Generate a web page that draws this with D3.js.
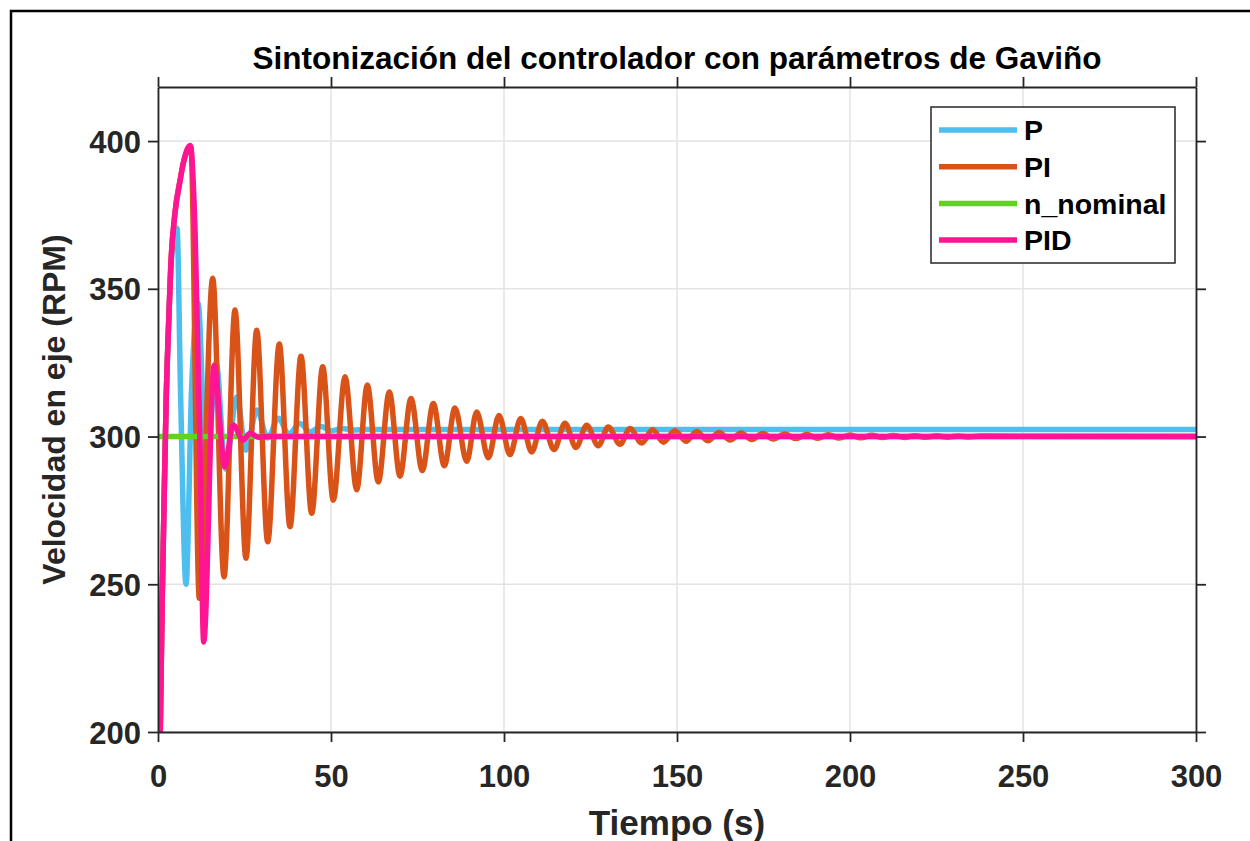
<!DOCTYPE html>
<html>
<head>
<meta charset="utf-8">
<script src="https://cdn.jsdelivr.net/npm/d3@7"></script>
<style>
  html, body { margin: 0; padding: 0; background: #fff; }
  svg { display: block; font-family: "Liberation Sans", Arial, Helvetica, sans-serif; font-weight: bold; }
</style>
</head>
<body>
<div id="chart"></div>
<script>
// values
const xTicks = [0, 50, 100, 150, 200, 250, 300];
const yTicks = [200, 250, 300, 350, 400];
const seriesNames = ['P', 'PI', 'n_nominal', 'PID'];
const seriesColors = ['#4DBEEE', '#D95319', '#62D21E', '#FF1493'];

// P controller
const pTime  = [0, 0.65, 1.25, 2.0, 2.4, 3.0, 3.7, 4.6, 5.5, 6.5, 8.1, 9.7, 11.6, 14.0, 16.8, 19.5, 22.8, 25.4, 28.6, 31.7, 34.8, 37.8, 41.0, 44.0, 47.1, 50.2, 53.3, 56.4, 60, 300];
const pSpeed = [160, 200, 247, 292, 314, 336, 356, 367, 370.5, 316, 250, 316, 345, 285, 325, 289, 313.4, 295.4, 309, 299.5, 306.2, 300.8, 304.4, 301.6, 303.4, 302.0, 302.7, 302.2, 302.4, 302.4];

// PI controller (peaks and troughs of the decaying oscillation)
const piTime  = [0, 0.65, 1.25, 2.0, 2.4, 3.0, 3.7, 4.9, 6.4, 7.3, 9.5, 11.94,
  15.81, 19.08, 22.25, 25.43, 28.53, 31.71, 35.06, 38.15, 41.33, 44.42, 47.60, 50.66,
  54.05, 57.43, 60.49, 63.67, 66.85, 69.94, 73.12, 76.39, 79.57, 82.75, 85.84, 89.22,
  92.11, 95.46, 98.55, 101.73, 104.83, 108.01, 111.07, 114.45, 117.63, 120.81, 123.90, 127.25,
  130.14, 133.53, 136.42, 139.80, 142.98, 146.04, 149.42, 152.60, 155.69, 158.87, 162.23, 165.32,
  168.50, 171.59, 174.77, 177.83, 181.21, 184.39, 187.49, 190.66, 193.73, 196.91, 200.0, 203.1,
  206.3, 209.4, 212.5, 215.7, 218.8, 221.9, 225.1, 228.2, 231.3, 234.5, 237.6, 300];
const piSpeed = [160, 200, 247, 292, 314, 336, 358, 375.6, 386.8, 392.5, 398, 245.3,
  353.6, 252.5, 342.8, 258.8, 336.0, 264.4, 331.3, 269.5, 327.2, 274.0, 323.6, 278.5,
  320.2, 282.0, 317.4, 284.6, 315.1, 286.6, 312.9, 288.5, 311.2, 290.1, 309.7, 291.6,
  308.3, 292.8, 307.1, 293.9, 306.1, 294.8, 305.2, 295.6, 304.5, 296.3, 303.8, 296.9,
  303.2, 297.4, 302.7, 297.8, 302.3, 298.1, 302.0, 298.4, 301.7, 298.6, 301.4, 298.8,
  301.2, 299.0, 301.0, 299.2, 300.85, 299.3, 300.7, 299.4, 300.6, 299.5, 300.5, 299.6,
  300.4, 299.65, 300.35, 299.7, 300.3, 299.75, 300.25, 299.8, 300.2, 299.85, 300.15, 300];

// reference speed
const nomTime  = [0, 300];
const nomSpeed = [300, 300];

// PID controller
const pidTime  = [0, 0.65, 1.25, 2.0, 2.4, 3.0, 3.7, 4.9, 6.4, 7.3, 9.3, 10.7, 12.1, 13.2, 16.2, 19.3, 21.7, 24.6, 26.6, 29, 32, 300];
const pidSpeed = [160, 200, 247, 292, 314, 336, 358, 375.6, 386.8, 392.5, 398.5, 370, 300, 230.5, 324, 289.8, 303.9, 298.8, 301.1, 299.8, 300, 300];

const width = 1250, height = 841;
const margin = { top: 87, right: 54, bottom: 109, left: 158 };
const innerW = width - margin.left - margin.right;
const innerH = height - margin.top - margin.bottom;

const svg = d3.select('#chart').append('svg')
  .attr('width', width)
  .attr('height', height);

// outer black frame of the figure
svg.append('rect')
  .attr('x', 11).attr('y', 11)
  .attr('width', 1300).attr('height', 900)
  .attr('fill', 'none')
  .attr('stroke', '#000')
  .attr('stroke-width', 2.5);

const g = svg.append('g')
  .attr('transform', `translate(${margin.left},${margin.top})`);

const x = d3.scaleLinear().domain([0, 300]).range([0, innerW]);
const y = d3.scaleLinear().domain([200, 418.3]).range([innerH, 0]);

// grid
g.append('g').selectAll('line.gx')
  .data(xTicks).join('line')
  .attr('x1', d => x(d)).attr('x2', d => x(d))
  .attr('y1', 0).attr('y2', innerH)
  .attr('stroke', '#e3e3e3').attr('stroke-width', 1.5);
g.append('g').selectAll('line.gy')
  .data(yTicks).join('line')
  .attr('x1', 0).attr('x2', innerW)
  .attr('y1', d => y(d)).attr('y2', d => y(d))
  .attr('stroke', '#e3e3e3').attr('stroke-width', 1.5);

// data lines, clipped to the axes box
g.append('clipPath').attr('id', 'plot-clip')
  .append('rect').attr('width', innerW).attr('height', innerH);

const line = d3.line()
  .x(d => x(d[0]))
  .y(d => y(d[1]))
  .curve(d3.curveMonotoneX);

const series = [
  d3.zip(pTime, pSpeed),
  d3.zip(piTime, piSpeed),
  d3.zip(nomTime, nomSpeed),
  d3.zip(pidTime, pidSpeed)
];

const plot = g.append('g').attr('clip-path', 'url(#plot-clip)');
series.forEach((s, i) => {
  plot.append('path')
    .datum(s)
    .attr('fill', 'none')
    .attr('stroke', seriesColors[i])
    .attr('stroke-width', 5.5)
    .attr('stroke-linejoin', 'round')
    .attr('d', line);
});

// axes on all four sides, ticks pointing out
const axisColor = '#262626';
const styleAxis = sel => {
  sel.select('.domain').attr('stroke', axisColor).attr('stroke-width', 1.8);
  sel.selectAll('.tick line').attr('stroke', axisColor).attr('stroke-width', 1.8);
  sel.selectAll('text')
    .attr('fill', axisColor)
    .style('font-size', '31px')
    .style('font-weight', 'bold')
    .style('font-family', '"Liberation Sans", Arial, sans-serif');
};

g.append('g')
  .attr('transform', `translate(0,${innerH})`)
  .call(d3.axisBottom(x).tickValues(xTicks).tickSize(10).tickSizeOuter(0))
  .call(styleAxis)
  .selectAll('text').attr('y', 55).attr('dy', null);

g.append('g')
  .call(d3.axisTop(x).tickValues(xTicks).tickSize(10).tickSizeOuter(0).tickFormat(''))
  .call(styleAxis);

g.append('g')
  .call(d3.axisLeft(y).tickValues(yTicks).tickSize(10).tickSizeOuter(0))
  .call(styleAxis)
  .selectAll('text').attr('x', -17).attr('dy', '0.36em');

g.append('g')
  .attr('transform', `translate(${innerW},0)`)
  .call(d3.axisRight(y).tickValues(yTicks).tickSize(10).tickSizeOuter(0).tickFormat(''))
  .call(styleAxis);

// title and axis labels
svg.append('text')
  .attr('x', margin.left + innerW / 2).attr('y', 69)
  .attr('text-anchor', 'middle')
  .attr('fill', '#000')
  .style('font-size', '31.5px')
  .text('Sintonización del controlador con parámetros de Gaviño');

svg.append('text')
  .attr('x', margin.left + innerW / 2).attr('y', 835)
  .attr('text-anchor', 'middle')
  .attr('fill', axisColor)
  .style('font-size', '35px')
  .text('Tiempo (s)');

svg.append('text')
  .attr('transform', `translate(65,${margin.top + innerH / 2}) rotate(-90)`)
  .attr('text-anchor', 'middle')
  .attr('fill', axisColor)
  .style('font-size', '32px')
  .text('Velocidad en eje (RPM)');

// legend
const legend = svg.append('g').attr('transform', 'translate(931,107)');
legend.append('rect')
  .attr('width', 244).attr('height', 156)
  .attr('fill', '#fff')
  .attr('stroke', axisColor)
  .attr('stroke-width', 1.5);

const rows = legend.selectAll('g.row')
  .data(seriesNames)
  .join('g')
  .attr('transform', (d, i) => `translate(0,${23 + i * 36.7})`);
rows.append('line')
  .attr('x1', 8).attr('x2', 86)
  .attr('stroke', (d, i) => seriesColors[i])
  .attr('stroke-width', 5.5);
rows.append('text')
  .attr('x', 93).attr('dy', '0.36em')
  .attr('fill', '#000')
  .style('font-size', '28.5px')
  .text(d => d);
</script>
</body>
</html>
